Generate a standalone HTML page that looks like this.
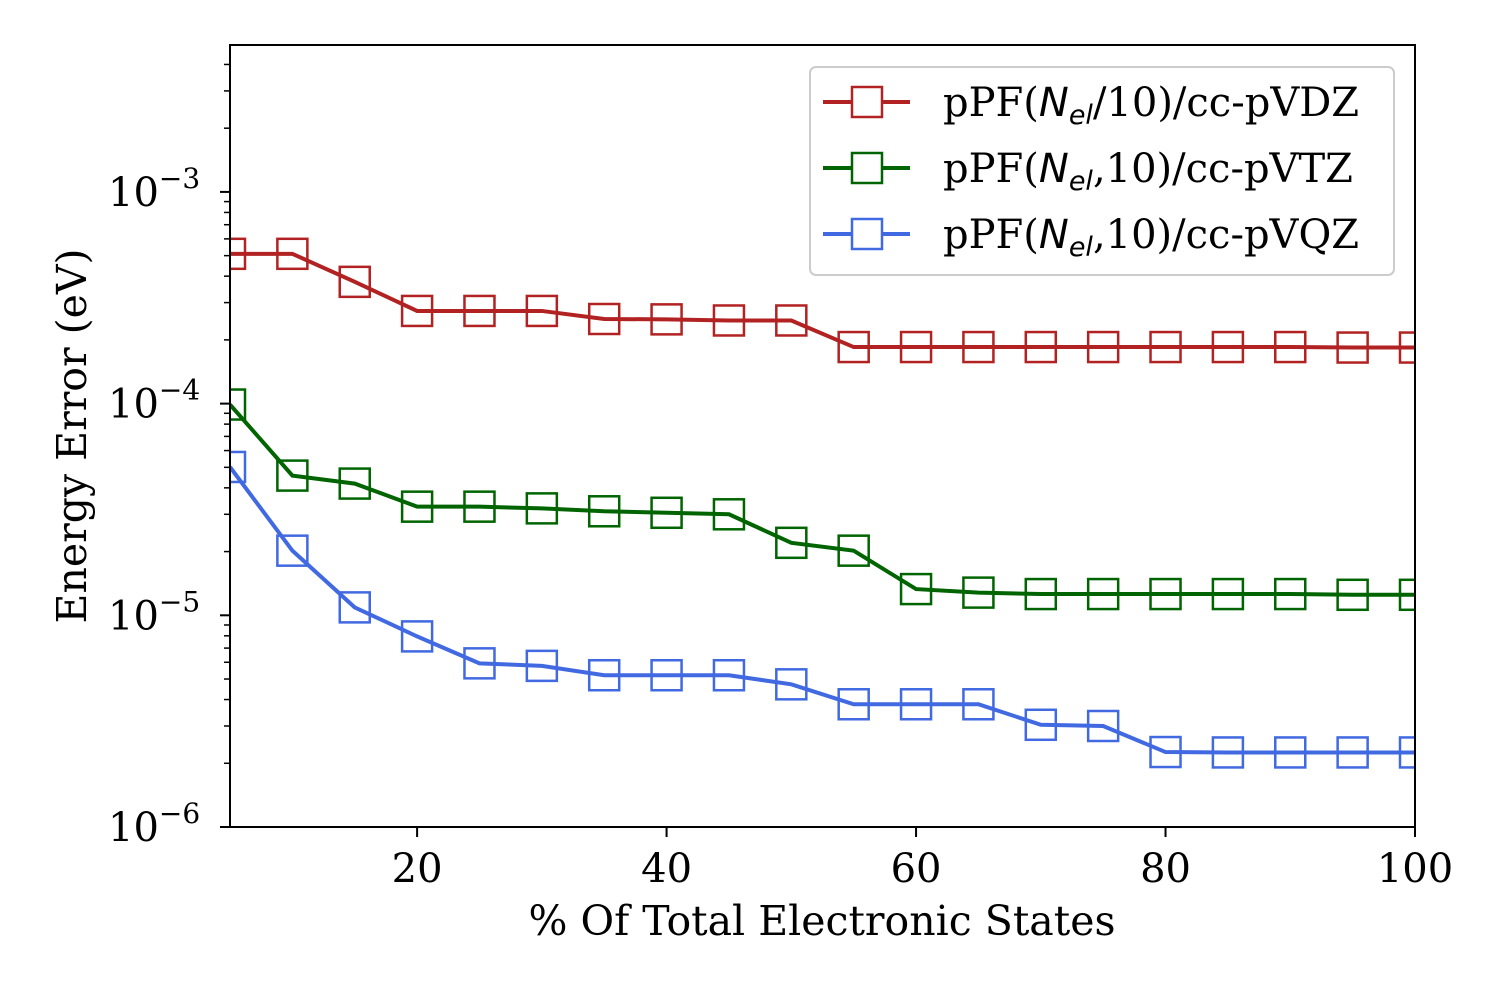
<!DOCTYPE html>
<html><head><meta charset="utf-8"><style>
body{margin:0;background:#fff}
svg text{font-family:"DejaVu Serif","Liberation Serif",serif;fill:#000}
</style></head><body>
<svg id="chart" width="1500" height="1000" xmlns="http://www.w3.org/2000/svg">
<defs><clipPath id="clip"><rect x="230" y="45" width="1185" height="782"/></clipPath></defs>
<rect width="1500" height="1000" fill="#fff"/>
<g id="series" clip-path="url(#clip)"></g>
<g id="axes"></g>
<text x="822" y="935" font-size="41" text-anchor="middle">% Of Total Electronic States</text>
<text transform="translate(86,436) rotate(-90)" font-size="41" text-anchor="middle">Energy Error (eV)</text>
<g id="legend"></g>
</svg>
<script>
const xValues=[5,10,15,20,25,30,35,40,45,50,55,60,65,70,75,80,85,90,95,100];
const vdz=[5.1e-4,5.1e-4,3.76e-4,2.74e-4,2.74e-4,2.74e-4,2.51e-4,2.5e-4,2.47e-4,2.47e-4,1.85e-4,1.85e-4,1.85e-4,1.85e-4,1.85e-4,1.85e-4,1.85e-4,1.85e-4,1.84e-4,1.84e-4];
const vtz=[9.9e-5,4.57e-5,4.19e-5,3.26e-5,3.26e-5,3.2e-5,3.1e-5,3.05e-5,3.0e-5,2.2e-5,2.02e-5,1.33e-5,1.28e-5,1.26e-5,1.26e-5,1.26e-5,1.26e-5,1.26e-5,1.25e-5,1.25e-5];
const vqz=[5.02e-5,2.02e-5,1.09e-5,7.95e-6,5.93e-6,5.77e-6,5.21e-6,5.21e-6,5.21e-6,4.72e-6,3.8e-6,3.8e-6,3.8e-6,3.04e-6,3.0e-6,2.26e-6,2.25e-6,2.25e-6,2.25e-6,2.25e-6];
const xTicks=[20,40,60,80,100];
const yTickExps=[-3,-4,-5,-6];
const NS="http://www.w3.org/2000/svg";
const L=230,R=1415,T=45,B=827,xmin=5,xmax=100,lmin=-6,lmax=-2.306;
const sx=v=>L+(v-xmin)/(xmax-xmin)*(R-L);
const sy=v=>B-(Math.log10(v)-lmin)/(lmax-lmin)*(B-T);
function mk(tag,attrs,parent){const e=document.createElementNS(NS,tag);for(const k in attrs)e.setAttribute(k,attrs[k]);parent.appendChild(e);return e;}
const series=document.getElementById('series'),axes=document.getElementById('axes'),legend=document.getElementById('legend');
const defs=[[vdz,'#b22222','vdz'],[vtz,'#006400','vtz'],[vqz,'#4169e1','vqz']];
defs.forEach(([d,c,n])=>{
 const g=mk('g',{},series);
 
 
 const p=mk('polyline',{points:d.map((v,i)=>sx(xValues[i])+','+sy(v)).join(' '),fill:'none',stroke:c,'stroke-width':4},g);
 
 
 d.forEach((v,i)=>{
  const r=mk('rect',{x:sx(xValues[i])-15,y:sy(v)-15,width:30,height:30,fill:'none',stroke:c,'stroke-width':2.5},g);
  
  
 });
});
mk('rect',{x:L,y:T,width:R-L,height:B-T,fill:'none',stroke:'#000','stroke-width':2},axes);
xTicks.forEach(t=>{
 mk('line',{x1:sx(t),x2:sx(t),y1:B,y2:B+10,stroke:'#000','stroke-width':2},axes);
 const tx=mk('text',{x:sx(t),y:B+55,'font-size':40,'text-anchor':'middle'},axes);
 tx.textContent=t;
 
 
});
yTickExps.forEach(e=>{
 const y=sy(Math.pow(10,e));
 mk('line',{x1:L-10,x2:L,y1:y,y2:y,stroke:'#000','stroke-width':2},axes);
 const tx=mk('text',{x:108,y:y+14,'font-size':40,'text-anchor':'start'},axes);
 tx.innerHTML='10<tspan font-size="28" dy="-18">\u2212'+(-e)+'</tspan>';
 
 
});
for(let e=-6;e<=-3;e++)for(let m=2;m<=9;m++){const v=m*Math.pow(10,e);if(Math.log10(v)>lmax)continue;const y=sy(v);mk('line',{x1:L-6,x2:L,y1:y,y2:y,stroke:'#000','stroke-width':1.5},axes);}
mk('rect',{x:810,y:67,width:584,height:208,rx:6,fill:'#fff',stroke:'#ccc','stroke-width':2},legend);
const sub='<tspan font-family="DejaVu Sans" font-style="italic">N</tspan><tspan font-family="DejaVu Sans" font-style="italic" font-size="27" dy="8">el</tspan>';
const labels=['pPF('+sub+'<tspan dy="-8">/10)/cc-pVDZ</tspan>','pPF('+sub+'<tspan dy="-8">,10)/cc-pVTZ</tspan>','pPF('+sub+'<tspan dy="-8">,10)/cc-pVQZ</tspan>'];
defs.forEach(([d,c,n],i)=>{
 const y=102+i*66;
 const g=mk('g',{},legend);
 
 
 mk('line',{x1:823,x2:910,y1:y,y2:y,stroke:c,'stroke-width':4},g);
 mk('rect',{x:852,y:y-15,width:30,height:30,fill:'#fff',stroke:c,'stroke-width':2.5},g);
 const t=mk('text',{x:943,y:y+14,'font-size':40},g);
 t.innerHTML=labels[i];
});
</script>
</body></html>
